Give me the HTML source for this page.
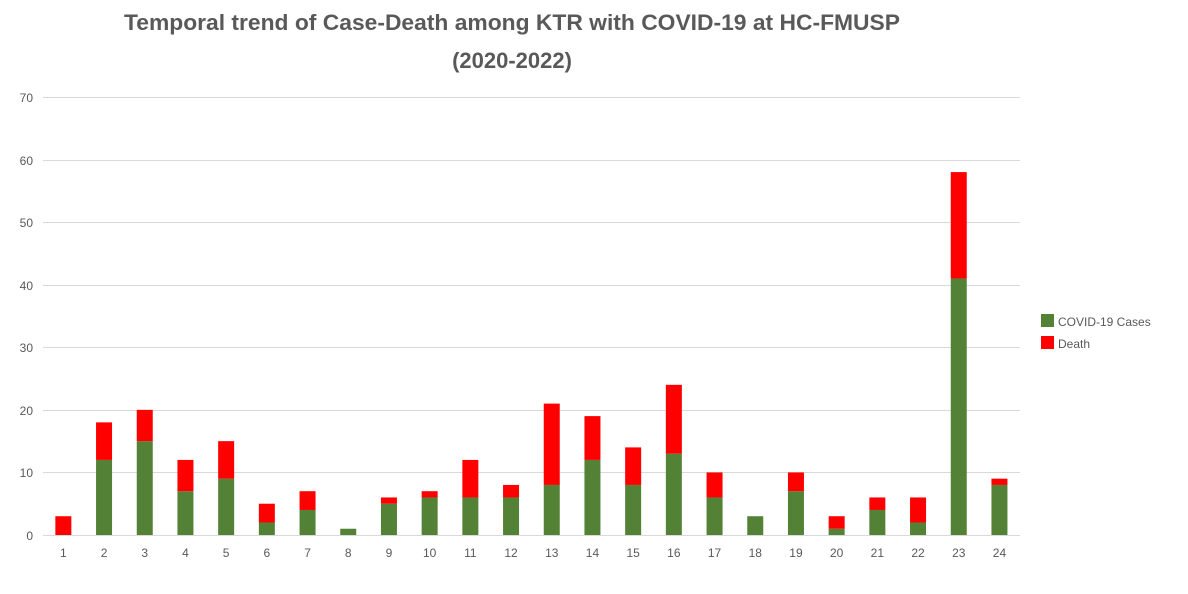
<!DOCTYPE html>
<html><head><meta charset="utf-8"><style>
html,body{margin:0;padding:0;background:#fff;}
svg{display:block;}
</style></head><body>
<svg width="1188" height="594" xmlns="http://www.w3.org/2000/svg" font-family="Liberation Sans, sans-serif">
<rect width="1188" height="594" fill="#fff"/>
<text x="512" y="30" text-anchor="middle" font-size="22" font-weight="bold" fill="#595959" textLength="776" lengthAdjust="spacingAndGlyphs">Temporal trend of Case-Death among KTR with COVID-19 at HC-FMUSP</text>
<text x="512" y="68" text-anchor="middle" font-size="22" font-weight="bold" fill="#595959">(2020-2022)</text>
<g stroke="#d9d9d9" stroke-width="1">
<line x1="43" x2="1020" y1="97.5" y2="97.5"/>
<line x1="43" x2="1020" y1="160.5" y2="160.5"/>
<line x1="43" x2="1020" y1="222.5" y2="222.5"/>
<line x1="43" x2="1020" y1="285.5" y2="285.5"/>
<line x1="43" x2="1020" y1="347.5" y2="347.5"/>
<line x1="43" x2="1020" y1="410.5" y2="410.5"/>
<line x1="43" x2="1020" y1="472.5" y2="472.5"/>
<line x1="43" x2="1020" y1="535.5" y2="535.5"/>
</g>
<g font-size="12" fill="#595959" text-anchor="end">
<text x="33" y="102">70</text><text x="33" y="165">60</text><text x="33" y="227">50</text><text x="33" y="290">40</text>
<text x="33" y="352">30</text><text x="33" y="415">20</text><text x="33" y="477">10</text><text x="33" y="540">0</text>
</g>
<g id="bars"></g>
<g id="labels" font-size="12" fill="#595959" text-anchor="middle"></g>
<rect x="1041" y="314" width="13" height="13" fill="#538135"/>
<rect x="1041" y="336" width="13" height="13" fill="#ff0000"/>
<text x="1058" y="326" font-size="12" fill="#595959">COVID-19 Cases</text>
<text x="1058" y="348" font-size="12" fill="#595959">Death</text>
<script>
var d=[[0,3],[12,18],[15,20],[7,12],[9,15],[2,5],[4,7],[1,1],[5,6],[6,7],[6,12],[6,8],[8,21],[12,19],[8,14],[13,24],[6,10],[3,3],[7,10],[1,3],[4,6],[2,6],[41,58],[8,9]];
var ns="http://www.w3.org/2000/svg",b=document.getElementById("bars"),l=document.getElementById("labels");
var y0=535,s=438/70;
d.forEach(function(v,i){var cx=43+40.7*(i+0.5);
function r(a,c,col){var e=document.createElementNS(ns,"rect");e.setAttribute("x",cx-8);e.setAttribute("width",16);e.setAttribute("y",y0-c*s);e.setAttribute("height",(c-a)*s);e.setAttribute("fill",col);b.appendChild(e);}
if(v[0]>0)r(0,v[0],"#538135");if(v[1]>v[0])r(v[0],v[1],"#ff0000");
var t=document.createElementNS(ns,"text");t.setAttribute("x",cx);t.setAttribute("y",557);t.textContent=i+1;l.appendChild(t);});
</script>
</svg>
</body></html>
